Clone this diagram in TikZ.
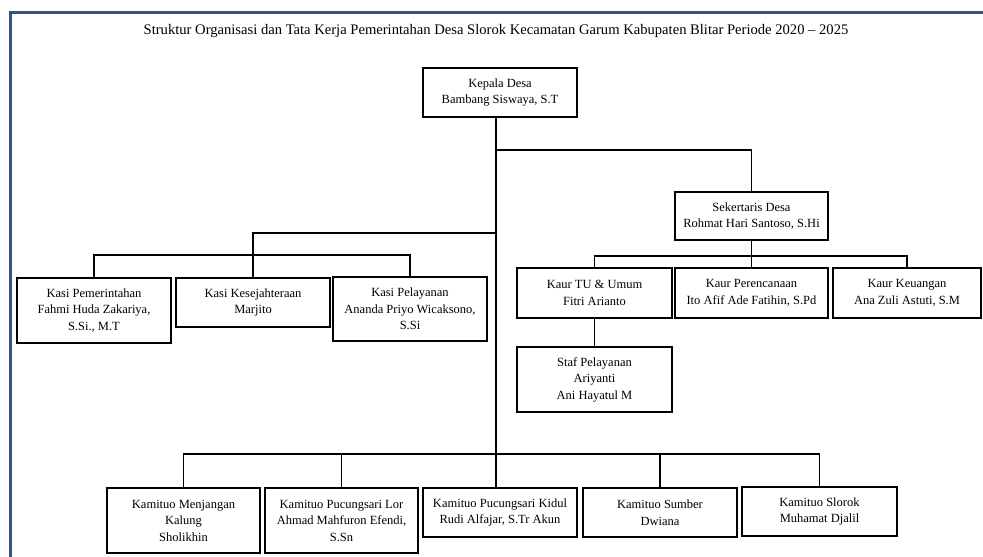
\documentclass[tikz,border=0pt]{standalone}
\usepackage{fontspec}
\setmainfont{Liberation Serif}
\definecolor{frameblue}{RGB}{47,84,150}
\tikzset{
  orgbox/.style={draw, line width=1.5pt, align=center, inner sep=0pt,
    font=\fontsize{12.5}{16.5}\selectfont, minimum width=154pt},
  conn/.style={line width=1.5pt},
}
\begin{document}
\begin{tikzpicture}[x=1pt,y=-1pt]
\fill[white] (0,0) rectangle (983,557);
\useasboundingbox (0,0) rectangle (983,557);
\draw[frameblue, line width=3pt] (10.5,557) -- (10.5,12.5) -- (983,12.5);
\node[font=\fontsize{14.6}{16}\selectfont] (title) at (496,31) {Struktur Organisasi dan Tata Kerja Pemerintahan Desa Slorok Kecamatan Garum Kabupaten Blitar Periode 2020 -- 2025};

\node[orgbox, minimum height=49pt] (kd) at (500,92.5) {Kepala Desa\\Bambang Siswaya, S.T};
\node[orgbox, minimum width=153pt, minimum height=48pt] (sek) at (751.5,216) {Sekertaris Desa\\Rohmat Hari Santoso, S.Hi};
\node[orgbox, minimum width=155pt, minimum height=50pt] (tu) at (594.5,293) {Kaur TU \& Umum\\Fitri Arianto};
\node[orgbox, minimum width=153pt, minimum height=50pt] (per) at (751.5,293) {Kaur Perencanaan\\Ito Afif Ade Fatihin, S.Pd};
\node[orgbox, minimum width=148pt, minimum height=50pt] (keu) at (907,293) {Kaur Keuangan\\Ana Zuli Astuti, S.M};
\node[orgbox, minimum width=155pt, minimum height=65pt] (staf) at (594.5,379.5) {Staf Pelayanan\\Ariyanti\\Ani Hayatul M};

\node[orgbox, minimum height=65pt] (kp) at (94,310.5) {Kasi Pemerintahan\\Fahmi Huda Zakariya,\\S.Si., M.T};
\node[orgbox, minimum height=49pt] (ks) at (253,302.5) {Kasi Kesejahteraan\\Marjito};
\node[orgbox, minimum height=64pt] (kpl) at (410,309) {Kasi Pelayanan\\Ananda Priyo Wicaksono,\\S.Si};

\node[orgbox, minimum width=153pt, minimum height=65pt] (k1) at (183.5,520.5) {Kamituo Menjangan\\Kalung\\Sholikhin};
\node[orgbox, minimum width=153pt, minimum height=65pt] (k2) at (341.5,520.5) {Kamituo Pucungsari Lor\\Ahmad Mahfuron Efendi,\\S.Sn};
\node[orgbox, minimum height=49pt] (k3) at (500,512.5) {Kamituo Pucungsari Kidul\\Rudi Alfajar, S.Tr Akun};
\node[orgbox, minimum height=49pt] (k4) at (660,512.5) {Kamituo Sumber\\Dwiana};
\node[orgbox, minimum width=155pt, minimum height=49pt] (k5) at (819.5,511.5) {Kamituo Slorok\\Muhamat Djalil};

\coordinate (trunk) at (496,0);
\coordinate (hsek) at (0,150);
\coordinate (hkasi) at (0,233);
\coordinate (hkasi2) at (0,255);
\coordinate (hkaur) at (0,256);
\coordinate (hkam) at (0,454);

% trunk
\draw[conn] (kd.south -| trunk) -- (k3.north -| trunk);
% sekretaris
\draw[conn] (hsek -| trunk) -| (sek.north);
% kasi
\draw[conn] (hkasi -| trunk) -| (ks.north);
\draw[conn] (kp.north) -- (kp.north |- hkasi2) -- (kpl.north |- hkasi2) -- (kpl.north);
% kaur
\draw[conn] (sek.south) -- (sek.south |- hkaur);
\draw[conn] (tu.north) -- (tu.north |- hkaur) -- (keu.north |- hkaur) -- (keu.north);
\draw[conn] (per.north) -- (per.north |- hkaur);
\draw[conn] (tu.south) -- (staf.north);
% kamituo
\draw[conn] (k1.north) -- (k1.north |- hkam) -- (k5.north |- hkam) -- (k5.north);
\draw[conn] (k2.north) -- (k2.north |- hkam);
\draw[conn] (k4.north) -- (k4.north |- hkam);
\end{tikzpicture}
\end{document}
